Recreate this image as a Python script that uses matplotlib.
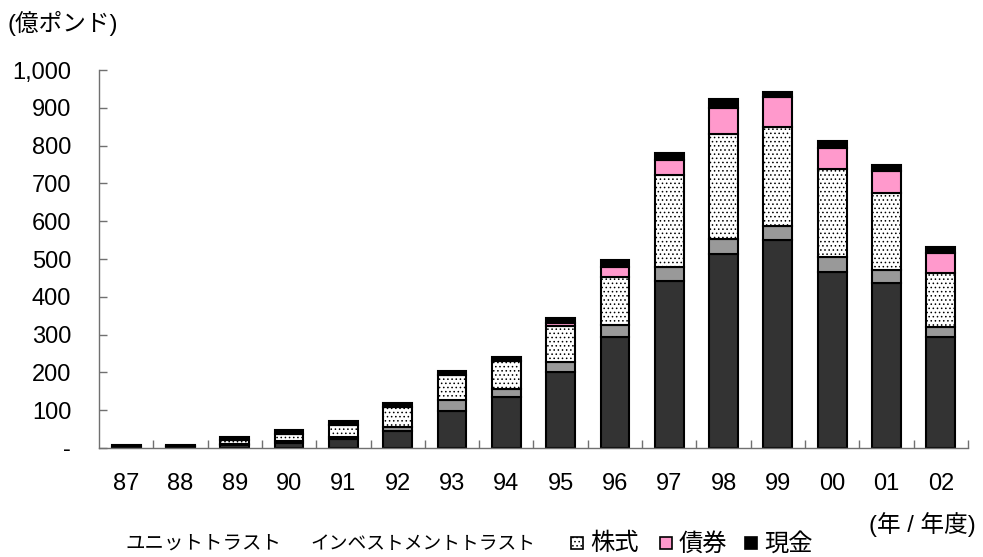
import numpy as np
import matplotlib
matplotlib.use('Agg')
from matplotlib import pyplot as plt
from matplotlib.patches import Rectangle
from matplotlib.ticker import FuncFormatter

plt.rcParams['font.family'] = ['Liberation Sans', 'Noto Sans CJK JP']
plt.rcParams['hatch.linewidth'] = 0.6
plt.rcParams['hatch.color'] = 'black'

# 億ポンド
years = ['87', '88', '89', '90', '91', '92', '93', '94', '95', '96',
         '97', '98', '99', '00', '01', '02']
unit_trust = [2, 3, 8, 14, 24, 46, 99, 135, 201, 294, 442, 513, 549, 465, 436, 293]
invest_trust = [0, 0, 2, 5, 5, 9, 28, 21, 26, 31, 38, 40, 39, 40, 35, 26]
stocks = [1, 1, 10, 18, 31, 53, 65, 73, 96, 128, 242, 278, 262, 232, 203, 143]
bonds = [0, 0, 0, 0, 0, 1, 1, 1, 8, 27, 40, 68, 78, 58, 60, 53]
cash = [4, 5, 9, 11, 12, 11, 10, 10, 12, 17, 19, 23, 15, 18, 16, 16]

series = [unit_trust, invest_trust, stocks, bonds, cash]
colors = ['#333333', '#999999', 'white', '#ff99cc', 'black']
hatches = [None, None, '....', None, None]

fig = plt.figure(figsize=(9.83, 5.57), dpi=100)
ax = fig.add_axes([0.1007, 0.1957, 0.884, 0.6786])

x = np.arange(len(years))
bottom = np.zeros(len(years))
for vals, c, h in zip(series, colors, hatches):
    ax.bar(x, vals, width=0.53, bottom=bottom, color=c, hatch=h,
           edgecolor='black', linewidth=1.5)
    bottom += np.array(vals)

ax.set_xlim(-0.5, len(years) - 0.5)
ax.set_ylim(0, 1000)
ax.set_yticks(np.arange(0, 1001, 100))
ax.yaxis.set_major_formatter(FuncFormatter(lambda v, p: '-' if v == 0 else f'{int(v):,}'))

ax.set_xticks(x)
ax.set_xticklabels(years)
ax.set_xticks(np.arange(0.5, len(years)), minor=True)

for s in ['top', 'right']:
    ax.spines[s].set_visible(False)
for s in ['left', 'bottom']:
    ax.spines[s].set_color('#707070')
    ax.spines[s].set_linewidth(1.0)

ax.tick_params(axis='y', direction='in', length=6, width=1.0, color='#707070',
               labelsize=17, pad=20)
ax.tick_params(axis='x', which='major', length=0, labelsize=17, pad=18)
ax.tick_params(axis='x', which='minor', direction='in', length=6, width=1.0,
               color='#707070')

fig.text(0.008, 0.958, '(億ポンド)', fontsize=17, va='center', ha='left')
fig.text(0.993, 1 - 525 / 557, '(年 / 年度)', fontsize=17, va='center', ha='right')

# legend row
ly = 1 - 544 / 557
fig.text(125 / 983, ly, 'ユニットトラスト', fontsize=14, va='center', ha='left')
fig.text(310 / 983, ly, 'インベストメントトラスト', fontsize=13.5, va='center', ha='left')
sw = 12
legend_items = [(571, '株式', 'white', '....'), (660, '債券', '#ff99cc', None),
                (745, '現金', 'black', None)]
for px, lab, c, h in legend_items:
    r = Rectangle((px / 983, (557 - 543 - sw / 2) / 557), sw / 983, sw / 557,
                  transform=fig.transFigure, facecolor=c, hatch=h,
                  edgecolor='black', linewidth=1.2)
    fig.add_artist(r)
    fig.text((px + sw + 7) / 983, ly, lab, fontsize=17.5, va='center', ha='left')

fig.savefig('out.png', dpi=100)
